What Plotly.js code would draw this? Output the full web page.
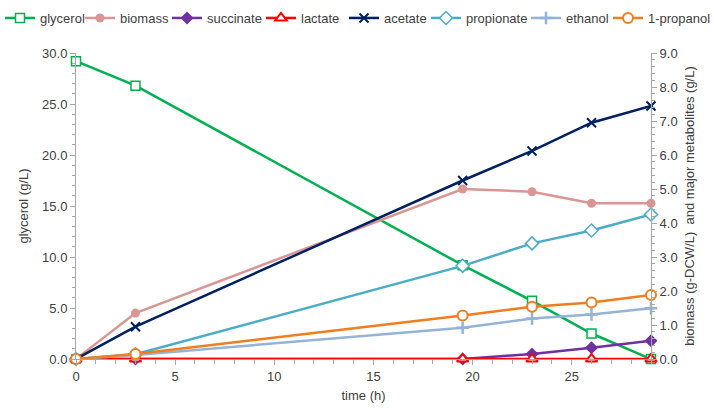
<!DOCTYPE html>
<html>
<head>
<meta charset="utf-8">
<script src="https://cdn.plot.ly/plotly-3.0.1.min.js"></script>
<style>html,body{margin:0;padding:0;background:#fff;}#chart{width:714px;height:408px;}</style>
</head>
<body>
<div id="chart"></div>
<script>
// time points (h)
const time = [0, 3, 19.5, 23, 26, 29];
// left axis (g/L)
const glycerol = [29.2, 26.8, 9.2, 5.7, 2.5, 0.0];
// right axis (g/L)
const biomass = [0.0, 1.35, 5.0, 4.92, 4.58, 4.58];
const succinate = [0.0, 0.0, 0.0, 0.15, 0.33, 0.54];
const lactate = [0.0, 0.0, 0.0, 0.0, 0.0, 0.0];
const acetate = [0.0, 0.95, 5.25, 6.12, 6.95, 7.44];
const propionate = [0.0, 0.14, 2.74, 3.40, 3.78, 4.25];
const ethanol = [0.0, 0.12, 0.92, 1.19, 1.31, 1.49];
const propanol1 = [0.0, 0.15, 1.28, 1.54, 1.66, 1.88];

const names = ['glycerol','biomass','succinate','lactate','acetate','propionate','ethanol','1-propanol'];
const seriesData = [glycerol, biomass, succinate, lactate, acetate, propionate, ethanol, propanol1];
const colors = ['#00B050','#D99694','#7030A0','#FF0000','#002060','#4BACC6','#95B3D7','#F07D1E'];
const styles = [
  {symbol:'square', color:'#ffffff', line:{color:'#00B050', width:1.5}, size:9},
  {symbol:'circle', color:'#D99694', line:{width:0}, size:9},
  {symbol:'diamond', color:'#7030A0', line:{width:0}, size:10},
  {symbol:'triangle-up', color:'#ffffff', line:{color:'#FF0000', width:2}, size:10},
  {symbol:'x-thin', color:'#002060', line:{color:'#002060', width:2}, size:9},
  {symbol:'diamond', color:'#ffffff', line:{color:'#4BACC6', width:1.5}, size:10},
  {symbol:'cross-thin', color:'#95B3D7', line:{color:'#95B3D7', width:2.5}, size:9},
  {symbol:'circle', color:'#ffffff', line:{color:'#F07D1E', width:2}, size:10}
];
// legend text start positions (px)
const legendTextX = [36, 120, 207, 301, 384, 466, 566, 648];

const traces = seriesData.map((ys, i) => ({
  x: time, y: ys, name: names[i], type: 'scatter', mode: 'lines+markers',
  yaxis: i === 0 ? 'y' : 'y2',
  line: {color: colors[i], width: 2.5},
  marker: styles[i],
  legend: i === 0 ? 'legend' : 'legend' + (i + 1),
  cliponaxis: false
}));

const font = {family: 'Liberation Sans, Arial, sans-serif', size: 13, color: '#404040'};
const layout = {
  width: 714, height: 408,
  margin: {l: 76, r: 63, t: 53, b: 49},
  paper_bgcolor: '#ffffff', plot_bgcolor: '#ffffff',
  font: font,
  xaxis: {
    range: [0, 29], dtick: 5, tick0: 0, showgrid: false, zeroline: false,
    showline: true, linecolor: '#A6A6A6', linewidth: 1,
    ticks: 'outside', ticklen: 5, tickcolor: '#A6A6A6',
    minor: {dtick: 1, ticks: 'outside', ticklen: 4, tickcolor: '#A6A6A6'},
    title: {text: 'time (h)', font: font, standoff: 8},
    tickfont: font
  },
  yaxis: {
    range: [0, 30], dtick: 5, tickformat: '.1f', showgrid: false, zeroline: false,
    showline: true, linecolor: '#A6A6A6', linewidth: 1,
    ticks: 'outside', ticklen: 5, tickcolor: '#A6A6A6',
    minor: {dtick: 1, ticks: 'outside', ticklen: 3, tickcolor: '#A6A6A6'},
    title: {text: 'glycerol (g/L)', font: font, standoff: 10},
    tickfont: font
  },
  yaxis2: {
    range: [0, 9], dtick: 1, tickformat: '.1f', overlaying: 'y', side: 'right',
    showgrid: false, zeroline: false,
    showline: true, linecolor: '#A6A6A6', linewidth: 1,
    ticks: 'outside', ticklen: 5, tickcolor: '#A6A6A6',
    minor: {dtick: 0.2, ticks: 'outside', ticklen: 3, tickcolor: '#A6A6A6'},
    title: {text: 'biomass (g-DCW/L)\u00a0 and major metabolites (g/L)', font: font, standoff: 8},
    tickfont: font
  },
  showlegend: true
};
legendTextX.forEach((tx, i) => {
  const key = i === 0 ? 'legend' : 'legend' + (i + 1);
  layout[key] = {
    orientation: 'h', xref: 'container', yref: 'container',
    x: (tx - 40) / 714, xanchor: 'left', y: 1 - 18 / 408, yanchor: 'middle',
    bgcolor: 'rgba(0,0,0,0)', borderwidth: 0, font: font, itemwidth: 30
  };
});

Plotly.newPlot('chart', traces, layout, {displayModeBar: false, staticPlot: true});
</script>
</body>
</html>
